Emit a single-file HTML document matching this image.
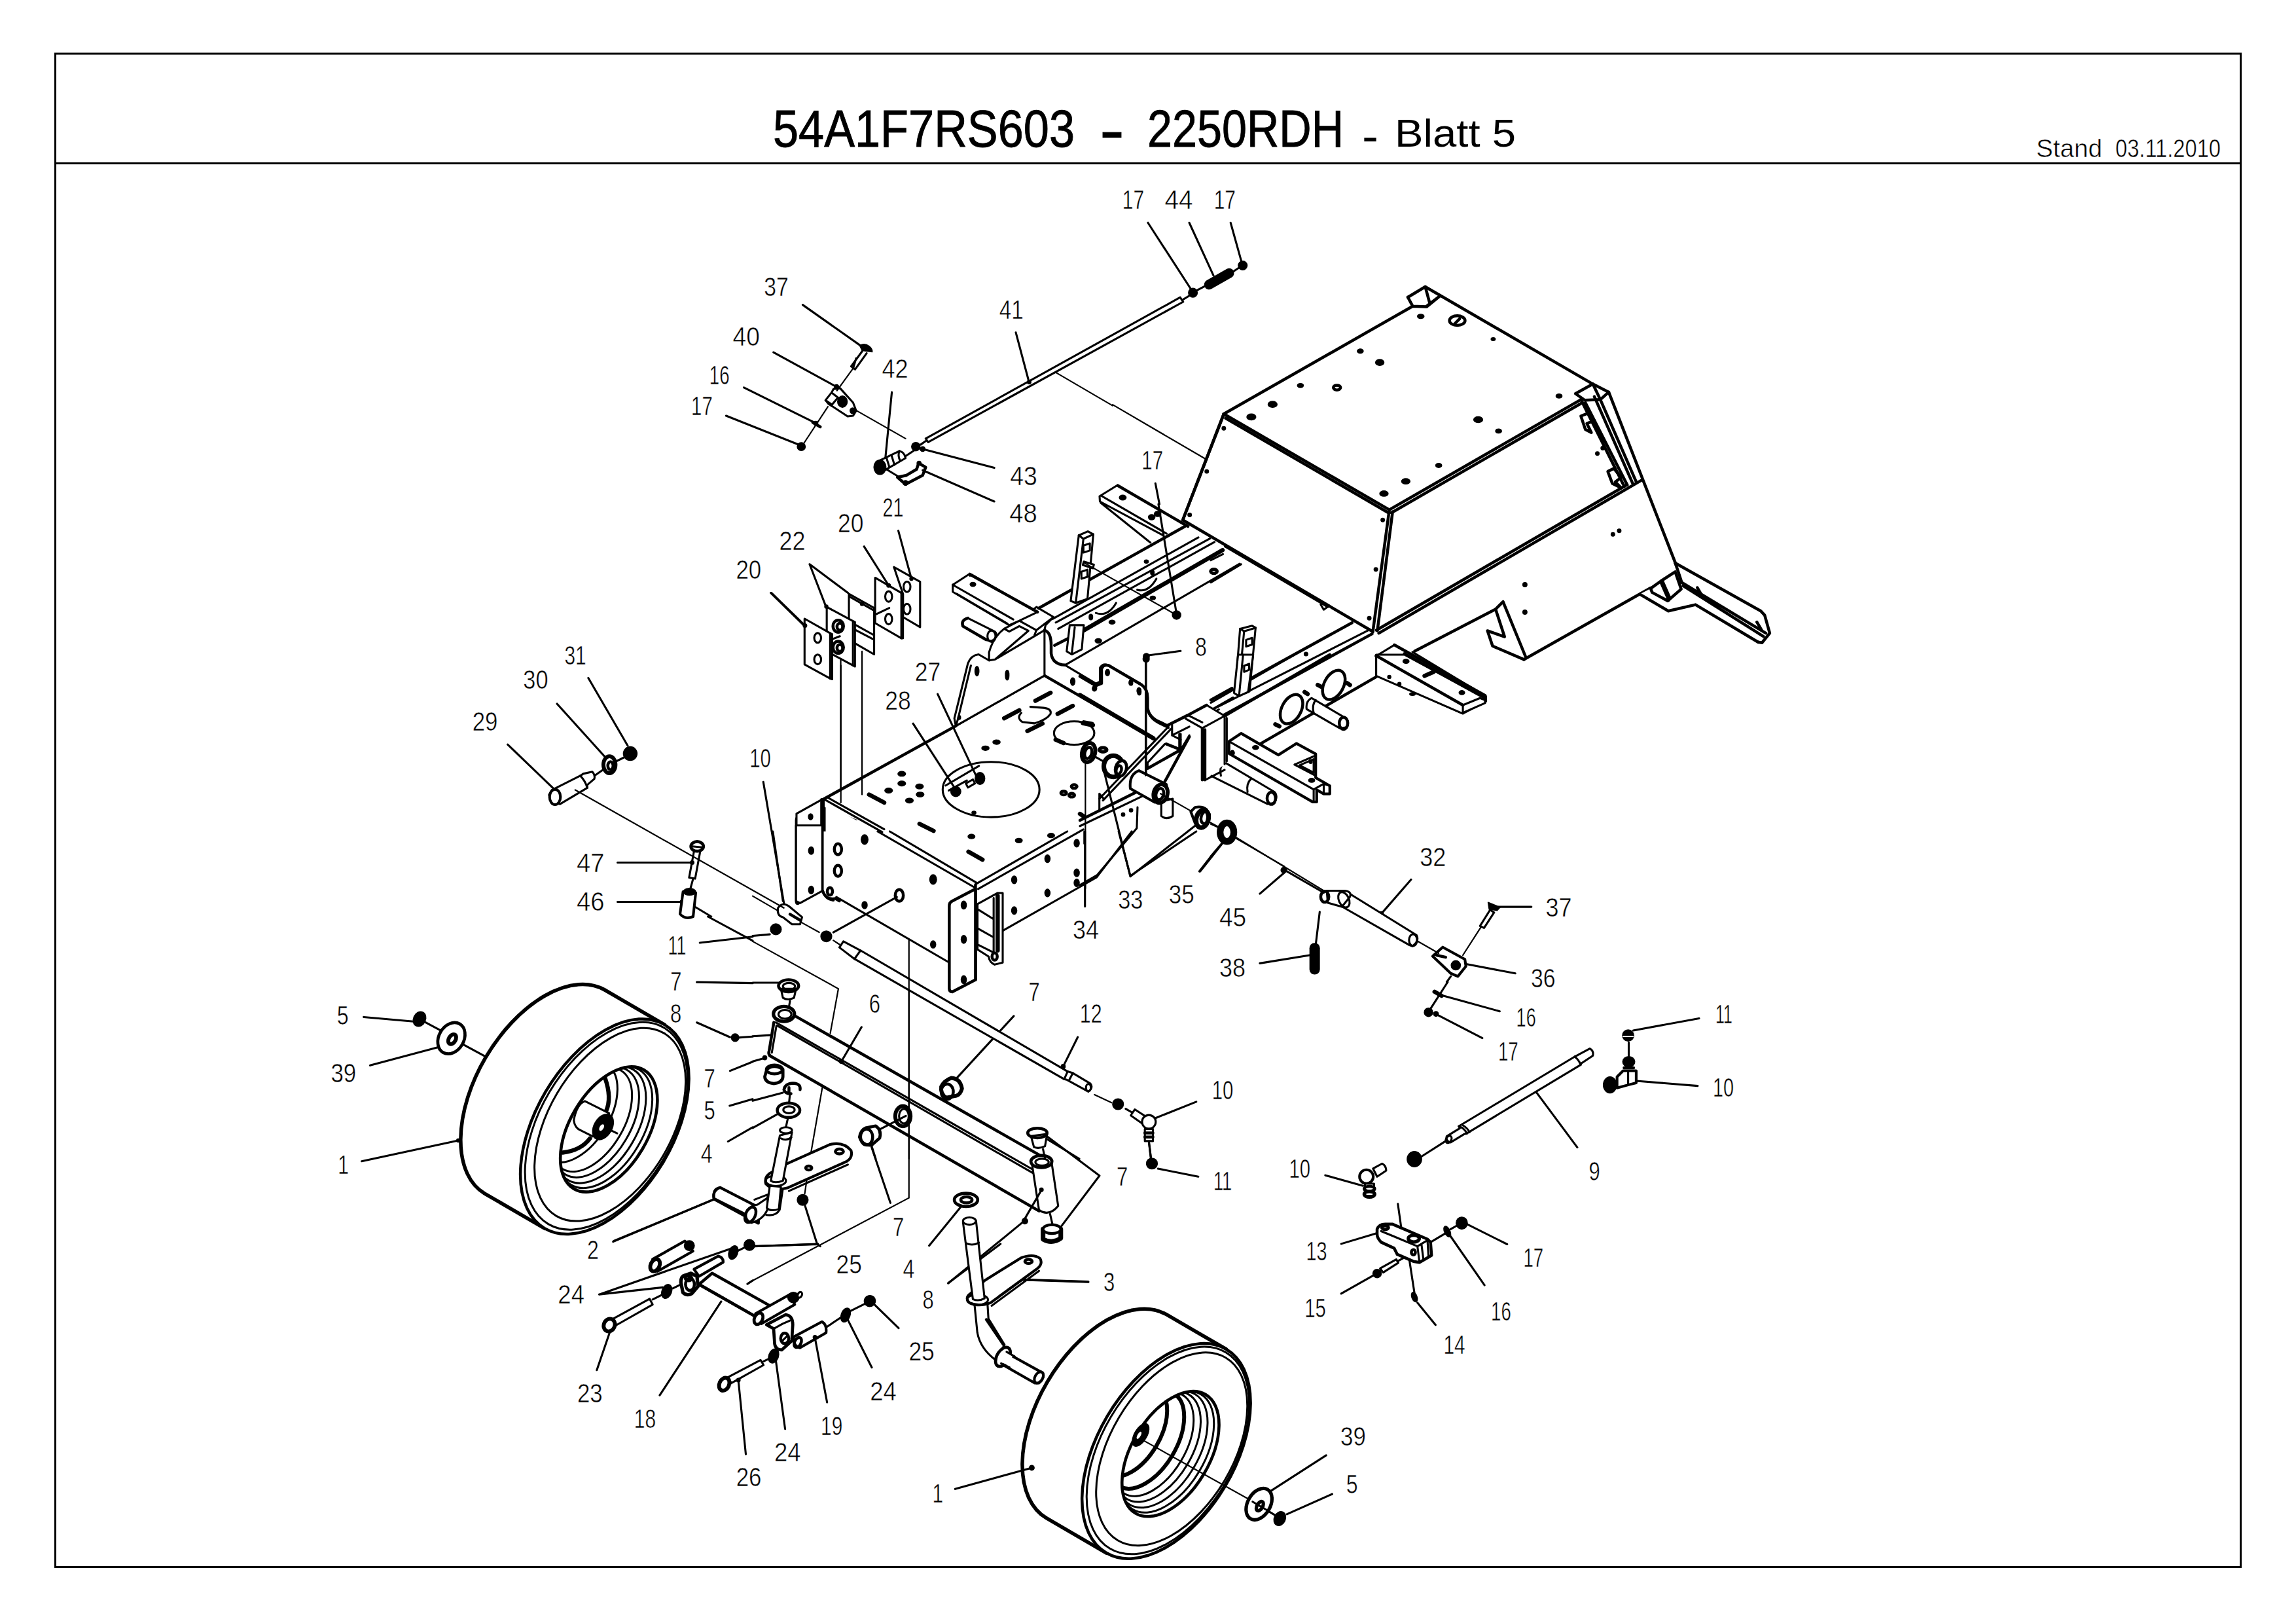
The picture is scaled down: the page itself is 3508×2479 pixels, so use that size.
<!DOCTYPE html>
<html lang="de">
<head>
<meta charset="utf-8">
<title>54A1F7RS603 - 2250RDH - Blatt 5</title>
<style>
html,body{margin:0;padding:0;background:#fff;}
body{width:3508px;height:2479px;overflow:hidden;}
svg{display:block;position:absolute;left:0;top:0;}
svg *{vector-effect:non-scaling-stroke;}
text{font-family:"Liberation Sans",sans-serif;fill:#000;stroke:#fff;stroke-width:0.55px;paint-order:fill stroke;}
text.T{stroke:#000;stroke-width:0.9px;}
.l{stroke:#000;stroke-width:3.1;fill:none;stroke-linecap:round;stroke-linejoin:round;vector-effect:non-scaling-stroke;}
.t{stroke:#000;stroke-width:2.2;fill:none;stroke-linecap:round;vector-effect:non-scaling-stroke;}
.k{stroke:#000;stroke-width:4.5;fill:none;stroke-linecap:round;stroke-linejoin:round;vector-effect:non-scaling-stroke;}
.h{stroke:#000;stroke-width:6.5;fill:none;stroke-linecap:round;}
.f{fill:#000;stroke:#000;stroke-width:1.5;stroke-linejoin:round;vector-effect:non-scaling-stroke;}
.w{fill:#fff;stroke:#000;stroke-width:3.1;stroke-linejoin:round;vector-effect:non-scaling-stroke;}
</style>
</head>
<body>
<svg width="3508" height="2479" viewBox="0 0 3508 2479">
<rect x="0" y="0" width="3508" height="2479" fill="#fff"/>
<rect x="84.5" y="82" width="3339" height="2311.5" fill="none" stroke="#000" stroke-width="3"/>
<line x1="84.5" y1="249.5" x2="3423.5" y2="249.5" stroke="#000" stroke-width="3"/>
<g font-size="80">
<text class="T" x="1181" y="224" textLength="461" lengthAdjust="spacingAndGlyphs">54A1F7RS603</text>
<text class="T" x="1680" y="233" font-size="100" textLength="38" lengthAdjust="spacingAndGlyphs">-</text>
<text class="T" x="1753" y="224" textLength="300" lengthAdjust="spacingAndGlyphs">2250RDH</text>
<text x="2081" y="232" font-size="70" style="stroke:none" textLength="25" lengthAdjust="spacingAndGlyphs">-</text>
<text x="2131" y="224" font-size="58.5" style="stroke:none" textLength="185" lengthAdjust="spacingAndGlyphs">Blatt 5</text>
</g>
<text y="240" font-size="38.5"><tspan x="3111" textLength="101" lengthAdjust="spacingAndGlyphs">Stand</tspan> <tspan x="3232" textLength="161" lengthAdjust="spacingAndGlyphs">03.11.2010</tspan></text>
<g transform="translate(0 0) scale(1.000000)" font-size="40.0"><!-- 08_misc.svg -->
<!-- upper-right cross beam -->
<path class="w" d="M1680 758L1707.5 741L1815 804L1790 818L1757.6 828.7L1681.8 768Z" style="stroke:none"/>
<path class="k" d="M1708 741.8L1815 804"/>
<path class="l" d="M1680 758L1707.5 741M1683 757.5L1782.4 815M1680 758L1680.5 766L1777 817.6M1681.8 768L1757.6 828.7"/>
<ellipse class="f" cx="1715.4" cy="760" rx="5.2" ry="3.7"/><ellipse class="f" cx="1759.6" cy="790" rx="5" ry="4"/><ellipse class="f" cx="1768.7" cy="785" rx="5" ry="4"/>
<circle class="f" cx="1843" cy="720" r="4"/><circle class="f" cx="1817" cy="786" r="4"/>
</g>
<g transform="translate(600 900) scale(0.308071)" font-size="129.8"><!-- 09_g1.svg -->
<path class="l" d=""/>
<path class="w" d="M2000 1145Q2000 1130 2015 1125L2130 1060L2140 1045L2300 950L2300 1700L2140 1700L2135 1490L2010 1560Q2000 1560 2000 1548Z" style="stroke:none"/>
<path class="l" d="M2000 1145Q2000 1130 2015 1125L2130 1060L2130 1492L2010 1560Q2000 1560 2000 1548Z"/>
<path class="k" d="M2140 1045L2140 1480Q2150 1530 2190 1530L2215 1545M2140 1045L2300 952"/>
<path class="l" d="M2150 1060L2300 1140"/>
<g class="f"><ellipse cx="2075" cy="1125" rx="12" ry="19"/><ellipse cx="2075" cy="1300" rx="12" ry="19"/><ellipse cx="2075" cy="1495" rx="12" ry="19"/></g>
<g class="k"><ellipse cx="2207" cy="1285" rx="17" ry="26"/><ellipse cx="2207" cy="1395" rx="17" ry="26"/><ellipse cx="2167" cy="1500" rx="13" ry="19"/></g>
<path class="t" d="M2222 350L2222 1070"/>
</g>
<g transform="translate(1200 770) scale(0.308071)" font-size="129.8"><!-- 10_c1.svg -->
<!-- main top plate -->
<path class="w" d="M190 1462L845 1100L1285 850L1830 1165L1900 1300L1900 1700L700 1700L190 1500Z" style="stroke:none"/>
<path class="k" d="M190 1462L845 1100M1285 850L1830 1165"/>
<path class="l" d="M845 1100L1285 850"/>
<path class="l" d="M190 1462L480 1626M205 1452L490 1612"/>
<!-- left flange -->
<path class="w" d="M55 1535L180 1465L190 1462L190 1700L55 1700Z"/>
<path class="k" d="M180 1465L180 1700"/>
<ellipse class="f" cx="125" cy="1550" rx="11" ry="15"/>
<!-- side panel left -->
<path class="w" d="M845 1100L838 1062L905 790Q920 750 958 745L1010 775L1010 735Q1030 660 1085 618L1160 578L1245 510L1330 560L1290 600L1285 625L1285 850Z"/>
<path class="l" d="M920 800L855 1068L845 1100M1010 775L1040 770L1285 625M1085 618L1110 632L1160 605L1205 628L1040 770M1160 578L1245 625L1330 560M1245 625L1235 650"/>
<ellipse class="f" cx="950" cy="828" rx="10" ry="24"/><ellipse class="f" cx="1100" cy="848" rx="9" ry="24"/><ellipse class="f" cx="862" cy="1058" rx="7" ry="10"/>
<!-- cross beam left -->
<path class="w" d="M830 400L915 345L1250 535L1160 578L1110 600L830 435Z"/>
<path class="l" d="M830 400L1130 572M850 445L1100 592M915 345L915 355"/>
<path class="k" d="M915 348L1250 535"/>
<ellipse class="f" cx="930" cy="398" rx="14" ry="10"/>
<!-- pin left -->
<path class="w" d="M905 565Q870 575 880 605L995 672Q1030 690 1045 655Q1050 635 1030 628Z"/>
<path class="k" d="M905 565Q870 575 880 605L995 672"/>
<ellipse class="l" cx="1022" cy="655" rx="20" ry="28"/>
<!-- rail lines -->
<path class="k" d="M1256 516L1980 111"/>
<path class="l" d="M1324 570L2048 165M1341 587L2105 171M1353 618L2128 188M1387 798L2253 296"/>
<path class="h" d="M1478 627L2168 228"/>
<path class="k" d="M1335 700L1478 627"/>
<!-- curved wall -->
<path class="k" d="M1285 625Q1318 635 1318 700L1318 740Q1325 795 1387 798"/>
<path class="l" d="M1387 798L1540 890L1560 880L1560 812Q1575 785 1605 800L1760 890Q1795 915 1795 960L1795 1010Q1800 1060 1850 1085L1900 1110"/>
<ellipse class="f" cx="1425" cy="880" rx="11" ry="19"/><ellipse class="f" cx="1598" cy="835" rx="9" ry="15"/><ellipse class="f" cx="1535" cy="912" rx="9" ry="13"/><ellipse class="f" cx="1712" cy="885" rx="8" ry="12"/><ellipse class="f" cx="1755" cy="930" rx="9" ry="17"/>
<!-- post -->
<path class="w" d="M1455 155L1500 135L1527 150L1498 470L1440 490L1415 480Z"/>
<path class="l" d="M1455 155L1478 172L1527 150M1478 172L1440 490M1478 205L1510 195L1510 230L1478 240ZM1468 335L1498 325L1498 360L1468 370Z"/>
<path class="w" d="M1410 600L1395 730L1420 745L1470 720L1480 600Z"/>
<path class="l" d="M1435 610L1420 745"/>
<path class="w" d="M1480 285L1530 300L1525 318L1475 302Z"/>
<!-- rail holes -->
<g class="f"><ellipse cx="1790" cy="285" rx="10" ry="8"/><ellipse cx="1820" cy="340" rx="9" ry="12"/><ellipse cx="1822" cy="465" rx="13" ry="9"/><ellipse cx="1620" cy="585" rx="15" ry="10"/><ellipse cx="1552" cy="678" rx="16" ry="11"/><ellipse cx="1515" cy="560" rx="9" ry="14"/></g>
<ellipse class="k" cx="2125" cy="333" rx="16" ry="10"/>
<path class="l" d="M1540 540Q1600 560 1640 490M1745 425Q1800 440 1840 370"/>
<!-- plate features -->
<path class="h" d="M1240 975L1315 935M1085 1062L1160 1022M1350 1040L1425 1000M1200 1125L1275 1088"/>
<path class="l" d="M1170 1035Q1145 1060 1175 1080L1235 1087Q1295 1070 1315 1040Q1322 1015 1280 1010L1215 1005"/>
<ellipse class="l" cx="1432" cy="1135" rx="100" ry="58"/>
<path class="h" d="M1480 1082L1520 1090M1340 1168L1380 1185"/>
<g class="f"><ellipse cx="992" cy="1210" rx="18" ry="11"/><ellipse cx="1047" cy="1180" rx="18" ry="11"/><ellipse cx="577" cy="1337" rx="19" ry="12"/><ellipse cx="577" cy="1385" rx="19" ry="12"/><ellipse cx="512" cy="1420" rx="19" ry="12"/><ellipse cx="665" cy="1400" rx="19" ry="12"/><ellipse cx="668" cy="1440" rx="19" ry="12"/><ellipse cx="615" cy="1470" rx="19" ry="12"/><ellipse cx="935" cy="1530" rx="10" ry="8"/></g>
<g class="k"><ellipse cx="1575" cy="1218" rx="16" ry="10"/><ellipse cx="1432" cy="1400" rx="14" ry="9"/><ellipse cx="1380" cy="1432" rx="14" ry="9"/><ellipse cx="1420" cy="1443" rx="14" ry="9"/></g>
<path class="h" d="M415 1440L490 1480M665 1585L735 1620"/>
<ellipse class="l" cx="1020" cy="1415" rx="240" ry="137"/>
<path class="l" d="M795 1395L960 1298M810 1420L900 1370"/>
<circle class="f" cx="845" cy="1425" r="25"/><ellipse class="f" cx="965" cy="1360" rx="24" ry="30"/>
<path class="w" d="M895 1385L930 1365L940 1385L905 1405Z"/>
</g>
<g transform="translate(1150 1270) scale(0.308071)" font-size="129.8"><!-- 12_e1.svg -->
<!-- front box faces -->
<path class="w" d="M345 0L345 290Q360 335 415 325L975 650L975 370L1105 285L1240 492L1705 228L1900 0L1560 0L1105 262L620 0Z" style="stroke:none"/>
<path class="k" d="M345 -20L345 290Q360 335 400 340M1105 265L1105 735"/>
<path class="l" d="M415 325L975 650M620 0L1105 280M680 0L1112 255M1105 262L1560 0M1118 285L1640 -10M1240 492L1705 228L1880 0M1645 0L1645 60"/>
<path class="w" d="M215 -30L215 345L235 355L345 295L345 -30Z"/>
<g class="f"><ellipse cx="290" cy="95" rx="13" ry="19"/><ellipse cx="290" cy="290" rx="13" ry="19"/><ellipse cx="555" cy="40" rx="17" ry="24"/><ellipse cx="895" cy="238" rx="17" ry="24"/><ellipse cx="555" cy="365" rx="13" ry="18"/><ellipse cx="895" cy="560" rx="13" ry="18"/>
<ellipse cx="1607" cy="58" rx="13" ry="19"/><ellipse cx="1462" cy="135" rx="13" ry="19"/><ellipse cx="1607" cy="205" rx="13" ry="19"/><ellipse cx="1607" cy="255" rx="13" ry="19"/><ellipse cx="1297" cy="240" rx="13" ry="19"/><ellipse cx="1462" cy="305" rx="13" ry="19"/><ellipse cx="1297" cy="392" rx="13" ry="19"/>
<ellipse cx="1085" cy="25" rx="17" ry="11"/><ellipse cx="1320" cy="45" rx="17" ry="11"/><ellipse cx="1480" cy="20" rx="17" ry="11"/></g>
<g class="k"><ellipse cx="423" cy="88" rx="18" ry="27"/><ellipse cx="423" cy="195" rx="18" ry="27"/><ellipse cx="383" cy="297" rx="13" ry="19"/><ellipse cx="727" cy="317" rx="20" ry="29"/></g>
<path class="h" d="M1070 100L1140 140"/>
<!-- hinge piece -->
<path class="w" d="M1115 360L1215 305L1240 305L1240 650L1200 660Q1175 650 1170 620L1115 585Z"/>
<path class="l" d="M1115 385L1195 435M1115 480L1195 525M1115 560L1195 600M1195 330L1195 600"/>
<path class="h" d="M1215 320L1215 590"/>
<ellipse class="k" cx="1200" cy="620" rx="13" ry="18"/>
<!-- front bracket plate -->
<path class="w" d="M975 370Q975 350 990 345L1105 285L1105 735L990 795Q975 795 975 780Z" style="stroke-width:4.5"/>
<g class="f"><ellipse cx="1047" cy="365" rx="13" ry="20"/><ellipse cx="1047" cy="535" rx="13" ry="20"/><ellipse cx="1047" cy="735" rx="13" ry="20"/></g>
</g>
<g transform="translate(450 1400) scale(0.308071)" font-size="129.8"><!-- 15_wheel1.svg -->
<path d="M943.1 1373.2A340.0 586.0 30.6 0 1 1536.9 362.8L1834.9 535.8L1241.1 1546.2Z" fill="#fff" stroke="#000" stroke-width="5.5" stroke-linejoin="round"/>
<ellipse cx="1538.0" cy="1041.0" rx="340.0" ry="586.0" transform="rotate(30.6 1538.0 1041.0)" fill="#fff" stroke="#000" stroke-width="4.5"/>
<ellipse cx="1546.0" cy="1038.0" rx="328.0" ry="565.0" transform="rotate(30.6 1546.0 1038.0)" fill="none" stroke="#000" stroke-width="3" />
<ellipse cx="1565.0" cy="1031.0" rx="305.0" ry="526.0" transform="rotate(30.6 1565.0 1031.0)" fill="none" stroke="#000" stroke-width="3" />
<clipPath id="rimA"><ellipse cx="1559" cy="1055" rx="193" ry="342" transform="rotate(30.6 1559 1055)"/></clipPath>
<g clip-path="url(#rimA)">
<ellipse cx="1541.0" cy="1045.0" rx="187.2" ry="331.7" transform="rotate(30.6 1541.0 1045.0)" fill="none" stroke="#000" stroke-width="3" />
<ellipse cx="1519.0" cy="1033.0" rx="179.5" ry="318.1" transform="rotate(30.6 1519.0 1033.0)" fill="none" stroke="#000" stroke-width="3" />
<ellipse cx="1497.0" cy="1020.0" rx="169.8" ry="301.0" transform="rotate(30.6 1497.0 1020.0)" fill="none" stroke="#000" stroke-width="3" />
<ellipse cx="1474.0" cy="1007.0" rx="160.2" ry="283.9" transform="rotate(30.6 1474.0 1007.0)" fill="none" stroke="#000" stroke-width="3" />
<ellipse cx="1409.0" cy="970.0" rx="154.4" ry="273.6" transform="rotate(30.6 1409.0 970.0)" fill="none" stroke="#000" stroke-width="3" />
<path class="h" transform="translate(0 0)" d="M1540 800Q1575 900 1545 965M1330 1170Q1420 1160 1465 1100"/>
</g>
<ellipse cx="1559.0" cy="1055.0" rx="193.0" ry="342.0" transform="rotate(30.6 1559.0 1055.0)" fill="none" stroke="#000" stroke-width="4.6" />
<g transform="translate(0 0)"><path class="w" d="M1440 915Q1400 930 1385 1010Q1390 1050 1420 1060L1480 1090L1560 975Z"/>
<path class="l" d="M1570 1060L1600 1075"/>
<ellipse cx="1530" cy="1043" rx="44" ry="68" transform="rotate(30 1530 1043)" fill="#000" stroke="#000" stroke-width="2"/>
<ellipse cx="1523" cy="1046" rx="10" ry="18" transform="rotate(30 1523 1046)" fill="#fff" stroke="none"/>
</g>
</g>
<g transform="translate(1350 1900) scale(0.308071)" font-size="129.8"><!-- 15_wheel2.svg -->
<path d="M807.1 1359.2A340.0 586.0 30.6 0 1 1400.9 348.8L1698.9 521.8L1105.1 1532.2Z" fill="#fff" stroke="#000" stroke-width="5.5" stroke-linejoin="round"/>
<ellipse cx="1402.0" cy="1027.0" rx="340.0" ry="586.0" transform="rotate(30.6 1402.0 1027.0)" fill="#fff" stroke="#000" stroke-width="4.5"/>
<ellipse cx="1410.0" cy="1024.0" rx="328.0" ry="565.0" transform="rotate(30.6 1410.0 1024.0)" fill="none" stroke="#000" stroke-width="3" />
<ellipse cx="1429.0" cy="1017.0" rx="305.0" ry="526.0" transform="rotate(30.6 1429.0 1017.0)" fill="none" stroke="#000" stroke-width="3" />
<clipPath id="rimB"><ellipse cx="1423" cy="1041" rx="193" ry="342" transform="rotate(30.6 1423 1041)"/></clipPath>
<g clip-path="url(#rimB)">
<ellipse cx="1405.0" cy="1031.0" rx="187.2" ry="331.7" transform="rotate(30.6 1405.0 1031.0)" fill="none" stroke="#000" stroke-width="3" />
<ellipse cx="1383.0" cy="1019.0" rx="179.5" ry="318.1" transform="rotate(30.6 1383.0 1019.0)" fill="none" stroke="#000" stroke-width="3" />
<ellipse cx="1361.0" cy="1006.0" rx="169.8" ry="301.0" transform="rotate(30.6 1361.0 1006.0)" fill="none" stroke="#000" stroke-width="3" />
<ellipse cx="1338.0" cy="993.0" rx="160.2" ry="283.9" transform="rotate(30.6 1338.0 993.0)" fill="none" stroke="#000" stroke-width="3" />
<ellipse cx="1303.0" cy="971.0" rx="150.5" ry="266.8" transform="rotate(30.6 1303.0 971.0)" fill="none" stroke="#000" stroke-width="6" />
<ellipse cx="1233.0" cy="931.0" rx="139.0" ry="246.2" transform="rotate(30.6 1233.0 931.0)" fill="none" stroke="#000" stroke-width="6" />
</g>
<ellipse cx="1423.0" cy="1041.0" rx="193.0" ry="342.0" transform="rotate(30.6 1423.0 1041.0)" fill="none" stroke="#000" stroke-width="4.6" />
<ellipse cx="1275" cy="947" rx="30" ry="62" transform="rotate(30 1275 947)" fill="#000" stroke="#000" stroke-width="2"/>
<ellipse cx="1267" cy="949" rx="8" ry="20" transform="rotate(30 1267 949)" fill="#fff" stroke="none"/>
</g>
<g transform="translate(1850 600) scale(0.308071)" font-size="129.8"><!-- 18_n1.svg -->
<path class="l" d="M70 762L580 1062M545 1050L560 1075L592 1052M0 830L60 800M0 940L150 850M590 1050L730 1140"/>
<ellipse class="k" cx="15" cy="885" rx="16" ry="10"/>
<path class="k" d="M0 1523L105 1465M200 1415L700 1140M60 1600L800 1195"/>
<path class="l" d="M0 1575L780 1178M0 1590L40 1570"/>
<circle class="f" cx="472" cy="1295" r="9"/>
<path class="w" d="M145 1170L205 1155L222 1165L192 1480L135 1500L120 1490Z"/>
<path class="l" d="M145 1170L165 1182L222 1165M165 1182L135 1500M175 1225L205 1215L205 1248L175 1258ZM165 1352L190 1344L190 1378L165 1386Z"/>
<path class="w" d="M820 1305L910 1250L1365 1505L1365 1530L1250 1590L820 1400Z"/>
<path class="k" d="M910 1250L1360 1500M820 1305L1250 1550"/>
<path class="l" d="M1000 1285L1340 1490M1250 1550L1250 1590M1250 1550L1335 1515L1365 1525"/>
</g>
<g transform="translate(1200 770) scale(0.308071)" font-size="129.8"><!-- 20_c1.svg -->
<!-- plates 20 21 22 -->
<path class="w" d="M538 312L668 385L668 610L583 560L583 445Z"/>
<path class="w" d="M445 365L575 440L583 445L583 665L575 665L445 590Z"/>
<path class="l" d="M575 440L575 665"/>
<path class="w" d="M315 445L440 515L440 745L345 690L315 670Z"/>
<path class="l" d="M350 600L440 650M350 625L440 672M320 460L440 528"/>
<path class="w" d="M205 510L335 580L345 585L345 805L335 800L205 730Z"/>
<path class="l" d="M335 580L335 800"/>
<path class="w" d="M95 568L222 640L232 645L232 868L222 865L95 795Z"/>
<path class="l" d="M222 640L222 865M232 670L270 655M452 545L515 515"/>
<g class="l"><ellipse cx="160" cy="663" rx="17" ry="24"/><ellipse cx="160" cy="770" rx="17" ry="24"/><ellipse cx="512" cy="458" rx="17" ry="26"/><ellipse cx="512" cy="570" rx="17" ry="26"/><ellipse cx="603" cy="410" rx="17" ry="26"/><ellipse cx="603" cy="520" rx="17" ry="26"/></g>
<g class="k"><ellipse cx="262" cy="605" rx="26" ry="30"/><ellipse cx="262" cy="710" rx="26" ry="30"/><ellipse cx="270" cy="608" rx="14" ry="17"/><ellipse cx="270" cy="713" rx="14" ry="17"/></g>
<circle class="f" cx="97" cy="602" r="9"/><circle class="f" cx="203" cy="508" r="8"/><circle class="f" cx="512" cy="403" r="9"/><circle class="f" cx="625" cy="370" r="8"/><circle class="f" cx="380" cy="495" r="8"/>
<path class="l" d="M120 298L200 505M120 298L310 440M390 210L510 400M560 132L625 370M755 942L945 1345M633 1088L835 1400M1960 728L1800 750M1850 0L1940 545"/>
<text x="260" y="140" textLength="128" lengthAdjust="spacingAndGlyphs">20</text>
<text x="482" y="62" textLength="104" lengthAdjust="spacingAndGlyphs">21</text>
<text x="642" y="875" textLength="128" lengthAdjust="spacingAndGlyphs">27</text>
<text x="494" y="1020" textLength="128" lengthAdjust="spacingAndGlyphs">28</text>
<text x="2032" y="752" textLength="58" lengthAdjust="spacingAndGlyphs">8</text>
<circle class="f" cx="1790" cy="755" r="15"/><circle class="f" cx="1940" cy="550" r="21"/>
<path class="t" d="M275 800L275 1480M380 730L380 1440M1790 770L1790 1350M1480 290L1940 550"/>
</g>
<g transform="translate(1850 1000) scale(0.308071)" font-size="129.8"><!-- 20_d1.svg -->
<text x="1036" y="1048" textLength="130" lengthAdjust="spacingAndGlyphs">32</text>
<text x="1660" y="1297" textLength="130" lengthAdjust="spacingAndGlyphs">37</text>
<text x="42" y="1348" textLength="134" lengthAdjust="spacingAndGlyphs">45</text>
<text x="42" y="1597" textLength="130" lengthAdjust="spacingAndGlyphs">38</text>
<text x="1587" y="1650" textLength="122" lengthAdjust="spacingAndGlyphs">36</text>
<path class="l" d="M993 1115L845 1285M1590 1250L1425 1250M243 1185L365 1080M243 1530L490 1490M1510 1580L1245 1530M55 935L0 1000M370 1070L560 1180M1190 1595L1170 1623M540 1275L520 1440"/>
<ellipse cx="80" cy="880" rx="34" ry="46" fill="none" stroke="#000" stroke-width="10.3"/>
<circle class="f" cx="362" cy="1068" r="14"/><circle class="f" cx="845" cy="1285" r="11"/>
<!-- 32 tube -->
<path class="w" d="M680 1180L1020 1390Q1035 1420 1000 1445L985 1440L635 1240Q640 1195 680 1180Z"/>
<ellipse class="l" cx="1003" cy="1415" rx="20" ry="29"/>
<path class="w" d="M575 1170L665 1170Q700 1175 690 1200L650 1250L580 1230Z"/>
<ellipse class="k" cx="565" cy="1200" rx="20" ry="27"/>
<ellipse class="l" cx="660" cy="1215" rx="25" ry="40" transform="rotate(-25 660 1215)"/>
<!-- 36 -->
<path class="w" d="M1100 1495L1150 1450L1260 1510L1265 1545L1225 1595L1190 1580Z" style="stroke-width:4.1"/>
<circle class="f" cx="1215" cy="1540" r="23"/><path class="k" d="M1120 1490L1165 1500"/>
<!-- 37 -->
<path class="f" d="M1375 1228L1435 1252L1420 1268L1380 1262Z"/>
<path class="w" d="M1385 1265L1335 1345L1355 1355L1405 1278Z"/>
<!-- spring 38 -->
<path d="M515 1455L515 1560" stroke="#000" stroke-width="16" stroke-linecap="round" fill="none"/>
<!-- chassis bits -->
<path class="l" d="M0 238L415 0M0 275L110 212M0 330L75 300"/>
<path class="k" d="M75 300L590 0M240 445L820 110"/>
<path class="l" d="M75 300L75 530"/>
<path class="w" d="M135 0L115 190L140 205L185 185L210 0Z"/>
<path class="l" d="M160 0L140 205M165 55L190 45L190 75L165 85Z"/>
<ellipse class="k" cx="400" cy="270" rx="48" ry="78" transform="rotate(28 400 270)"/>
<ellipse class="k" cx="610" cy="150" rx="48" ry="78" transform="rotate(28 610 150)"/>
<path class="h" d="M320 345L340 355M465 185L480 195M530 150L550 160M675 140L690 150"/>
<!-- pin right -->
<path class="w" d="M500 215L670 315Q690 335 670 360L640 365L475 270Q470 230 500 215Z"/>
<ellipse class="k" cx="658" cy="340" rx="21" ry="30"/>
<path class="l" d="M520 225Q500 250 510 290"/>
<!-- bracket lower-left -->
<path class="w" d="M90 430L150 390L335 497L425 440L520 492L520 610L590 650L590 690L560 690L525 670L525 730L505 730L90 490Z" style="stroke-width:4.2"/>
<path class="l" d="M90 430L510 668L510 730M510 668L560 640L590 650M560 640L560 690M415 545L520 500M415 545L520 600M440 548L510 518L510 585Z"/>
<g class="f"><ellipse cx="222" cy="460" rx="15" ry="10"/><ellipse cx="107" cy="487" rx="10" ry="12"/><ellipse cx="500" cy="623" rx="15" ry="10"/><ellipse cx="495" cy="530" rx="8" ry="10"/></g>
<!-- pin lower-left -->
<path class="w" d="M45 520L315 680Q335 700 315 735L280 740L0 600L0 545Q20 515 45 520Z"/>
<ellipse class="k" cx="300" cy="712" rx="21" ry="30"/>
<path class="l" d="M200 615Q175 640 182 680M65 530Q40 560 50 600"/>
<!-- right bracket -->
<path class="w" d="M820 0L820 105L1245 290L1360 240L1360 215L960 0Z"/>
<path class="k" d="M1360 215L960 -5M820 5L1250 250"/>
<path class="l" d="M1250 250L1250 290M1250 250L1335 215L1360 225M1000 0L1340 195"/>
<g class="f"><ellipse cx="968" cy="33" rx="15" ry="10"/><circle cx="885" cy="110" r="8"/><circle cx="935" cy="145" r="8"/><ellipse cx="1245" cy="188" rx="14" ry="10"/><ellipse cx="1000" cy="195" rx="14" ry="7"/></g>
<path class="h" d="M1060 105L1105 85"/>
<path class="t" d="M115 900L560 1170M1025 1420L1130 1480M1340 1350L1250 1490M0 840L45 860"/>
</g>
<g transform="translate(1650 1000) scale(0.219963)" font-size="181.8"><!-- 25_m1.svg -->
<!-- skirt / lower rails -->
<path class="k" d="M0 1150L420 940"/>
<path class="l" d="M0 1190L450 975M400 1060L395 1205L120 1530L0 1600M135 1085L135 965L165 1000"/>
<circle class="f" cx="300" cy="1110" r="12"/><circle class="f" cx="355" cy="1080" r="12"/>
<!-- long diagonal -->
<path class="l" d="M135 1000L615 500M160 1012L640 508"/>
<!-- junction block -->
<path class="w" d="M610 490L880 350L1005 425L1020 440L1020 740L1005 760L870 870L850 870L850 510L760 560L640 510Z" style="stroke:none"/>
<path class="k" d="M610 490L750 420L880 350M850 510L850 870M868 520L868 870"/>
<path class="l" d="M880 350L1005 425L850 510L735 445M1005 425L1005 760M1020 440L1020 740M870 870L1005 800M750 420L850 470M640 480L640 560L760 500M640 560L700 590"/>
<!-- gusset -->
<path class="k" d="M470 790L700 660M590 880L760 570M600 620L700 660"/>
<path class="l" d="M470 790L470 750L590 620M700 660L760 560M700 550L700 650M690 550L690 650"/>
<!-- pivot tube -->
<path class="w" d="M410 805L600 900L610 960L520 1025L350 930Q340 830 410 805Z" style="stroke-width:4.1"/>
<path class="w" d="M565 1020L565 1120Q600 1150 645 1120L645 1000Z"/>
<ellipse class="w" cx="560" cy="965" rx="48" ry="65" transform="rotate(15 560 965)" style="stroke-width:5.9"/>
<ellipse class="k" cx="555" cy="968" rx="26" ry="40" transform="rotate(15 555 968)"/>
<path class="l" d="M100 705L170 745M170 820L350 1540L810 1180M990 1310L835 1505"/>
<!-- bushing 33 R -->
<path class="w" d="M770 1090L800 1060Q850 1050 880 1075L900 1110L860 1200L800 1170Z" style="stroke-width:4.1"/>
<ellipse class="w" cx="850" cy="1140" rx="42" ry="62" transform="rotate(15 850 1140)" style="stroke-width:7.1"/>
<ellipse class="k" cx="870" cy="1130" rx="28" ry="44" transform="rotate(15 870 1130)"/>
<!-- bushing 33 L -->
<ellipse class="w" cx="232" cy="775" rx="66" ry="74" style="stroke-width:7.1"/>
<ellipse class="w" cx="285" cy="790" rx="38" ry="55" transform="rotate(15 285 790)" style="stroke-width:4.7"/>
<ellipse class="k" cx="270" cy="800" rx="18" ry="30" transform="rotate(15 270 800)"/>
<!-- washer 34 -->
<ellipse class="w" cx="60" cy="680" rx="45" ry="68" transform="rotate(15 60 680)" style="stroke-width:5.9"/>
<ellipse class="k" cx="58" cy="682" rx="24" ry="40" transform="rotate(15 58 682)"/>
<ellipse class="k" cx="160" cy="660" rx="28" ry="16"/>
<!-- curvy plate -->
<path class="k" d="M0 150L110 215L150 200L150 100Q160 65 200 75L430 210Q470 240 470 300L470 370Q480 440 560 470L610 495"/>
<path class="h" d="M0 280L510 580"/>
<g class="f"><ellipse cx="190" cy="125" rx="14" ry="20"/><ellipse cx="100" cy="235" rx="14" ry="18"/><ellipse cx="355" cy="195" rx="12" ry="18"/><ellipse cx="410" cy="250" rx="14" ry="22"/><ellipse cx="460" cy="30" rx="22" ry="22"/></g>
<path class="h" d="M20 475L90 490M0 1105L30 1125"/>

<path class="t" d="M560 965L770 1085M905 1165L970 1200M1075 1270L1420 1470M38 740L38 1623M455 30L455 840"/>
</g>
<g transform="translate(1750 400) scale(0.457317)" font-size="87.5"><!-- 30_b1.svg -->
<!-- box top -->
<path class="w" d="M262 508L893 148L877 118L935 83L1495 408L1548 435L1770 1004L1792 1071L1688 1089L1265 1328L1160 1283L1143 1232L1200 1252L1170 1160L1195 1135L900 1300L760 1235L125 862Z" style="stroke:none"/>
<path class="k" d="M125 862L262 508M877 118L935 83L1495 408L1548 435L1770 1004L1792 1071M1265 1328L1160 1283L1143 1232L1200 1252L1170 1160"/>
<path class="k" d="M262 508L893 148L937 150L985 113M877 118L893 148M935 83L950 138M893 148L940 150L985 113"/>
<path class="k" d="M262 508L815 828M815 828L1455 460"/>
<path class="k" d="M268 522L812 838M822 838L1460 470M815 828L760 1235M826 834L775 1232M1437 440L1495 408M1437 440L1468 462L1520 460L1548 435M1495 408L1520 460"/>
<path class="k" d="M262 508L125 862L760 1235"/>
<path class="k" d="M772 1230L1608 745"/>
<path class="k" d="M780 1240L1660 728M1455 460L1600 750M1470 470L1610 745M1500 450L1628 740M1520 460L1640 735"/>
<path class="k" d="M1455 515L1480 505L1500 530L1475 540L1490 570L1470 560ZM1545 700L1565 690L1590 720L1570 735L1590 755L1560 740Z"/>
<path class="k" d="M1265 1328L1688 1089M1195 1135L1270 1318M1170 1160L1195 1135M1170 1160L900 1300"/>
<!-- foot -->
<path class="w" d="M1770 1006L2056 1166L2069 1180L2086 1240L2060 1272L2047 1270L1838 1145L1747 1166L1652 1110L1688 1091L1770 1035Z" style="stroke:none"/>
<path class="k" d="M1770 1006L2056 1166L2069 1180L2086 1240L2060 1272L2047 1270"/>
<path class="k" d="M1652 1110L1747 1166L1838 1145L2047 1270M1792 1071L2073 1240M1797 1082L2065 1251M1688 1091L1721 1067L1770 1035M1688 1091L1693 1104L1745 1132L1790 1093L1770 1035M1721 1067L1749 1130M1727 1065L1753 1125M1844 1088L1859 1114M2043 1203L2060 1232"/>
<path class="k" d="M1770 1004L1792 1071"/>
<!-- holes -->
<g class="f">
<ellipse cx="920" cy="182" rx="11" ry="7"/><ellipse cx="1162" cy="258" rx="7" ry="5"/><ellipse cx="718" cy="298" rx="10" ry="7"/><ellipse cx="783" cy="336" rx="14" ry="10"/><ellipse cx="518" cy="413" rx="10" ry="7"/><ellipse cx="425" cy="476" rx="15" ry="10"/><ellipse cx="354" cy="518" rx="15" ry="10"/><ellipse cx="1382" cy="448" rx="10" ry="7"/><ellipse cx="1112" cy="527" rx="15" ry="10"/><ellipse cx="1180" cy="565" rx="10" ry="7"/><ellipse cx="980" cy="680" rx="10" ry="7"/><ellipse cx="870" cy="733" rx="14" ry="9"/><ellipse cx="797" cy="774" rx="14" ry="9"/>
<circle cx="262" cy="556" r="6"/><circle cx="205" cy="700" r="6"/><circle cx="148" cy="845" r="6"/><circle cx="793" cy="862" r="6"/><circle cx="770" cy="1027" r="6"/><circle cx="748" cy="1190" r="6"/><circle cx="1562" cy="910" r="6"/><circle cx="1583" cy="898" r="6"/><circle cx="1268" cy="1078" r="7"/><circle cx="1268" cy="1170" r="7"/><circle cx="1510" cy="640" r="6"/><circle cx="1528" cy="622" r="6"/>
</g>
<ellipse class="k" cx="1042" cy="196" rx="26" ry="16"/><path class="k" d="M1035 205L1050 190"/>
<ellipse class="k" cx="640" cy="420" rx="12" ry="8"/>
</g>
<g transform="translate(1150 1500) scale(0.308071)" font-size="129.8"><!-- 35_f1.svg -->
<!-- axle 6 -->
<path class="l" d=""/>
<path class="w" d="M205 165L1440 868L1395 930L1420 1135L85 365Q75 355 82 340L105 200Q110 180 150 190Z" style="stroke:none"/>
<path class="k" d="M205 165L1440 868M85 365L1420 1135M105 200L82 340Q75 358 90 368"/>
<path class="l" d="M115 200L1390 930M122 216L1388 946M118 215L95 350"/>
<ellipse class="w" cx="155" cy="158" rx="52" ry="37" style="stroke-width:5.3"/><ellipse class="l" cx="160" cy="160" rx="32" ry="22"/>
<ellipse class="w" cx="745" cy="665" rx="38" ry="50" style="stroke-width:5.9"/><ellipse class="l" cx="750" cy="665" rx="24" ry="36"/>
<path class="w" d="M1385 900L1420 1130Q1470 1165 1515 1110L1482 890Z"/>
<ellipse class="w" cx="1432" cy="890" rx="52" ry="30" style="stroke-width:4.7"/><ellipse class="l" cx="1435" cy="893" rx="33" ry="17"/>
<circle class="f" cx="1432" cy="1030" r="9"/>
<path class="t" d="M775 0L775 1070L0 1480M345 525L285 870L258 1050"/>
</g>
<g transform="translate(1150 1270) scale(0.308071)" font-size="129.8"><!-- 40_e1.svg -->
<text x="1812" y="383" textLength="124" lengthAdjust="spacingAndGlyphs">33</text>
<text x="2064" y="358" textLength="126" lengthAdjust="spacingAndGlyphs">35</text>
<text x="1587" y="533" textLength="130" lengthAdjust="spacingAndGlyphs">34</text>
<text x="1368" y="840" textLength="56" lengthAdjust="spacingAndGlyphs">7</text>
<text x="1622" y="948" textLength="110" lengthAdjust="spacingAndGlyphs">12</text>
<text x="577" y="898" textLength="56" lengthAdjust="spacingAndGlyphs">6</text>
<path class="l" d="M1295 915L1010 1225M1612 1020L1540 1165M540 970L440 1140M1815 0L1873 220L2200 0M2272 125L2215 198M1648 0L1648 372M400 500L715 325M100 0L150 345M0 518L85 510M2200 1340L2000 1420M1460 1525L1620 1623M1850 1375L1885 1395"/>
<!-- rod 12 -->
<path class="w" d="M450 545L535 590L1562 1190L1588 1198L1675 1250Q1690 1270 1665 1290L1560 1232L1545 1228L505 632L430 575Z"/>
<path class="l" d="M535 590L505 632M1562 1190L1545 1228M1588 1198L1570 1232"/>
<ellipse class="l" cx="1665" cy="1270" rx="12" ry="18"/>
<circle class="f" cx="365" cy="520" r="27"/><circle class="f" cx="115" cy="485" r="27"/><circle class="f" cx="1540" cy="1165" r="10"/><circle class="f" cx="440" cy="1140" r="10"/><circle class="f" cx="1812" cy="1352" r="27"/>
<!-- ball joint 10 left -->
<path class="w" d="M125 380Q150 345 185 375L245 425L235 460L195 460L150 425Q120 420 125 380Z"/>
<path class="k" d="M185 410L235 440"/>
<!-- ball joint 10 right -->
<path class="w" d="M1895 1378L1875 1408L1935 1450L1960 1420Z"/>
<circle class="w" cx="1965" cy="1440" r="34"/>
<path class="w" d="M1945 1475L1945 1535L1985 1535L1985 1475Z"/>
<path class="k" d="M1945 1495L1985 1495M1945 1515L1985 1515"/>
<path class="l" d="M1965 1540L1975 1623"/>
<!-- bushing 7 top-left -->
<path class="w" d="M140 780L150 825Q175 840 205 825L215 780Z"/>
<ellipse class="k" cx="178" cy="765" rx="50" ry="30"/><ellipse class="l" cx="180" cy="768" rx="30" ry="17"/>
<path class="l" d="M0 750L128 750M185 840L180 870"/>
<!-- bushing lower-left -->
<path class="w" d="M60 1215Q60 1245 105 1250Q150 1245 150 1215L150 1180Q105 1150 70 1180Z" style="stroke-width:4.7"/>
<ellipse class="k" cx="108" cy="1180" rx="40" ry="22"/>
<circle class="f" cx="60" cy="1122" r="10"/><path class="l" d="M0 1140L55 1125M0 1015L85 1010"/>
<!-- clip 5 -->
<path class="k" d="M235 1280Q240 1250 200 1248Q160 1250 155 1280Q160 1300 190 1300M180 1270L180 1300"/>
<path class="l" d="M0 1335L150 1295M185 1300L180 1350"/>
<!-- washer 4 -->
<ellipse class="k" cx="178" cy="1382" rx="56" ry="36"/><ellipse class="l" cx="180" cy="1380" rx="28" ry="17"/>
<path class="l" d="M0 1470L125 1400M175 1420L165 1465"/>
<!-- mid bushing 7 -->
<path class="w" d="M985 1222Q1030 1225 1038 1275Q1030 1305 1010 1310L960 1320Q930 1300 935 1265Q950 1235 985 1222Z" style="stroke-width:5.9"/>
<ellipse class="k" cx="965" cy="1290" rx="30" ry="38"/>
<!-- lower bushing 7 -->
<path class="w" d="M560 1470L610 1460Q640 1480 630 1520L590 1555Q545 1560 530 1515Q535 1480 560 1470Z" style="stroke-width:4.7"/>
<ellipse class="k" cx="565" cy="1515" rx="30" ry="40"/>
<path class="l" d="M625 1480L760 1410M590 1560L610 1623"/>
<!-- right bushing 7 -->
<path class="w" d="M1380 1510L1395 1565Q1420 1575 1450 1560L1460 1500Z"/>
<ellipse class="k" cx="1412" cy="1495" rx="48" ry="24"/>
<path class="l" d="M1440 1575L1450 1623"/>
<path class="t" d="M775 535L775 1623M0 545L425 780L385 1000M0 320L120 390M240 450L330 500M400 540L430 560M1695 1305L1780 1345"/>
</g>
<g transform="translate(600 900) scale(0.308071)" font-size="129.8"><!-- 40_g1.svg -->
<text x="852" y="372" textLength="108" lengthAdjust="spacingAndGlyphs">31</text>
<text x="647" y="495" textLength="124" lengthAdjust="spacingAndGlyphs">30</text>
<text x="395" y="700" textLength="126" lengthAdjust="spacingAndGlyphs">29</text>
<text x="1770" y="883" textLength="106" lengthAdjust="spacingAndGlyphs">10</text>
<text x="912" y="1403" textLength="138" lengthAdjust="spacingAndGlyphs">47</text>
<text x="912" y="1595" textLength="138" lengthAdjust="spacingAndGlyphs">46</text>
<path class="l" d="M970 440L1165 775M815 568L1065 845M570 770L810 1000M1838 955L1940 1555M1115 1355L1480 1355M1115 1550L1430 1550M1875 18L2040 180M1000 925L1050 890M1105 855L1145 835M1490 1435L1475 1490M1500 1575L1580 1623"/>
<circle class="f" cx="1178" cy="815" r="34"/>
<ellipse class="w" cx="1075" cy="870" rx="30" ry="42" style="stroke-width:5.9"/><ellipse class="k" cx="1080" cy="875" rx="13" ry="20"/>
<path class="w" d="M790 995L930 925L945 915L990 905Q1005 920 1000 940L965 970L965 985L830 1065Q790 1060 775 1020Z"/>
<ellipse class="w" cx="805" cy="1030" rx="27" ry="38" style="stroke-width:4.1"/>
<path class="l" d="M930 925Q955 950 965 985"/>
<!-- bolt 47 -->
<path class="w" d="M1495 1295L1470 1430L1500 1435L1525 1300Z"/>
<ellipse class="w" cx="1510" cy="1275" rx="31" ry="24" style="stroke-width:4.7"/><path class="l" d="M1485 1275L1535 1280"/>
<circle class="f" cx="1485" cy="1355" r="9"/><circle class="f" cx="1435" cy="1550" r="9"/>
<!-- spacer 46 -->
<path class="w" d="M1440 1500L1425 1610Q1450 1640 1490 1623L1503 1505Z" style="stroke-width:4.1"/>
<ellipse class="f" cx="1472" cy="1500" rx="31" ry="17"/>
<path class="t" d="M905 995L1940 1580"/>
</g>
<g transform="translate(450 1400) scale(0.308071)" font-size="129.8"><!-- 41_h1.svg -->
<text x="210" y="537" textLength="58" lengthAdjust="spacingAndGlyphs">5</text>
<text x="180" y="822" textLength="126" lengthAdjust="spacingAndGlyphs">39</text>
<text x="215" y="1277" textLength="54" lengthAdjust="spacingAndGlyphs">1</text>
<text x="1852" y="188" textLength="90" lengthAdjust="spacingAndGlyphs">11</text>
<text x="1864" y="368" textLength="56" lengthAdjust="spacingAndGlyphs">7</text>
<text x="1863" y="525" textLength="56" lengthAdjust="spacingAndGlyphs">8</text>
<text x="2030" y="848" textLength="56" lengthAdjust="spacingAndGlyphs">7</text>
<text x="2030" y="1005" textLength="56" lengthAdjust="spacingAndGlyphs">5</text>
<text x="2015" y="1222" textLength="58" lengthAdjust="spacingAndGlyphs">4</text>
<path class="l" d="M343 498L590 520M375 738L710 648M333 1213L812 1110M2010 130L2272 100M1995 325L2272 330M1995 525L2160 598M2200 600L2272 595M2160 765L2272 720M2158 938L2272 905M2150 1115L2272 1045M2050 0L2272 120M1580 1612L2085 1400M650 525L735 570M820 625L940 690"/>
<circle class="f" cx="2185" cy="600" r="19"/><circle class="f" cx="812" cy="1110" r="8"/>
<ellipse class="f" cx="620" cy="508" rx="30" ry="38" transform="rotate(25 620 508)"/>
<ellipse class="w" cx="778" cy="603" rx="62" ry="82" transform="rotate(30 778 603)" style="stroke-width:4.7"/>
<ellipse class="w" cx="782" cy="608" rx="17" ry="26" transform="rotate(30 782 608)" style="stroke-width:5.9"/>
<path class="w" d="M2110 1345L2300 1445L2300 1520L2080 1400Q2075 1350 2110 1345Z" style="stroke-width:4.7"/>
</g>
<g transform="translate(1350 1900) scale(0.308071)" font-size="129.8"><!-- 42_i1.svg -->
<text x="242" y="1283" textLength="54" lengthAdjust="spacingAndGlyphs">1</text>
<text x="2095" y="80" textLength="104" lengthAdjust="spacingAndGlyphs">13</text>
<text x="2088" y="362" textLength="106" lengthAdjust="spacingAndGlyphs">15</text>
<path class="l" d="M355 1215L735 1110M2195 1048L1920 1225M2225 1240L2000 1340M1900 1320L1950 1350M1015 187L640 175M320 195L580 0"/>
<circle class="f" cx="735" cy="1110" r="12"/><circle class="f" cx="640" cy="175" r="10"/>
<ellipse class="w" cx="1862" cy="1290" rx="56" ry="84" transform="rotate(30 1862 1290)" style="stroke-width:5.3"/>
<ellipse class="w" cx="1866" cy="1300" rx="14" ry="25" transform="rotate(30 1866 1300)" style="stroke-width:5.3"/>
<path class="l" d="M1830 1278L1905 1322"/>
<ellipse class="f" cx="1965" cy="1362" rx="28" ry="36" transform="rotate(25 1965 1362)"/>
<!-- spindle 3 lower -->
<path class="w" d="M450 290L465 440Q480 520 555 575L600 500L520 370L515 290Z"/>
<path class="k" d="M510 375L595 500"/>
<path class="w" d="M600 535L790 640Q800 665 770 690L750 690L575 590Z" style="stroke-width:4.1"/>
<ellipse class="w" cx="770" cy="662" rx="19" ry="30" transform="rotate(30 770 662)" style="stroke-width:4.1"/>
<ellipse class="w" cx="592" cy="560" rx="30" ry="52" transform="rotate(30 592 560)" style="stroke-width:4.7"/>
<path class="w" d="M597 530L640 555L615 600L578 585Z" style="stroke:none"/><path class="l" d="M610 535L650 558M583 592L625 612"/>
<path class="t" d="M1290 975L1810 1265"/>
</g>
<g transform="translate(800 1780) scale(0.308071)" font-size="129.8"><!-- 43_j1.svg -->
<text x="315" y="465" textLength="58" lengthAdjust="spacingAndGlyphs">2</text>
<text x="170" y="685" textLength="132" lengthAdjust="spacingAndGlyphs">24</text>
<text x="266" y="1175" textLength="126" lengthAdjust="spacingAndGlyphs">23</text>
<text x="548" y="1303" textLength="108" lengthAdjust="spacingAndGlyphs">18</text>
<text x="1054" y="1592" textLength="126" lengthAdjust="spacingAndGlyphs">26</text>
<text x="1243" y="1468" textLength="132" lengthAdjust="spacingAndGlyphs">24</text>
<text x="1474" y="1337" textLength="108" lengthAdjust="spacingAndGlyphs">19</text>
<text x="1718" y="1165" textLength="132" lengthAdjust="spacingAndGlyphs">24</text>
<text x="1910" y="968" textLength="128" lengthAdjust="spacingAndGlyphs">25</text>
<path class="l" d="M447 375L945 168M375 640L1030 412M375 640L690 605M363 1015L430 820M675 1140L980 675M1102 1432L1065 1065M1297 1307L1250 960M1505 1175L1445 855M1727 1002L1605 760M1860 807L1735 685M1120 402L1460 390M640 665L690 640M740 610L780 590M1190 972L1225 955M1505 800L1580 750M1615 725L1695 685M1136 571L1110 588M1060 425L1100 405"/>
<!-- stub axle 2 -->
<path class="w" d="M975 110L1150 200L1115 250L945 165Q935 125 975 110Z" style="stroke-width:4.1"/>
<path class="w" d="M1225 100L1215 200Q1200 265 1130 285Q1095 270 1105 230Q1120 200 1160 195L1285 110Z"/>
<path class="w" d="M1285 120L1270 220Q1250 255 1200 245" style="fill:none"/>
<ellipse class="k" cx="1125" cy="245" rx="24" ry="40" transform="rotate(25 1125 245)"/>
<path class="l" d="M1145 170L1210 145L1210 185"/>
<!-- bolt top-left -->
<path class="w" d="M640 465L800 375L840 425L665 525Z" style="stroke-width:4.1"/>
<ellipse class="w" cx="652" cy="495" rx="22" ry="32" transform="rotate(25 652 495)" style="stroke-width:5.9"/>
<circle class="f" cx="822" cy="398" r="25"/>
<ellipse class="f" cx="1040" cy="432" rx="22" ry="35" transform="rotate(20 1040 432)"/><circle class="f" cx="1120" cy="395" r="27"/>
<!-- 18 link -->
<path class="w" d="M870 590L1160 755L1220 695L935 535Z" style="stroke-width:4.5"/>
<path class="k" d="M870 590L1160 755"/>
<path class="w" d="M845 515L965 450Q990 455 990 480L870 550Z" style="stroke-width:4.1"/>
<path class="w" d="M800 545Q780 550 780 580L790 630Q810 650 835 635L865 600L860 550L830 535Z" style="stroke-width:5.3"/>
<ellipse class="k" cx="825" cy="590" rx="22" ry="30"/><ellipse class="k" cx="818" cy="560" rx="16" ry="12"/>
<path class="w" d="M1150 735L1320 640L1345 690L1180 785Z" style="stroke-width:4.1"/>
<ellipse class="w" cx="1165" cy="760" rx="20" ry="30" transform="rotate(25 1165 760)" style="stroke-width:4.7"/>
<ellipse class="f" cx="1338" cy="655" rx="28" ry="26"/><ellipse class="w" cx="1370" cy="642" rx="10" ry="15" transform="rotate(25 1370 642)"/>
<path class="w" d="M1205 790L1300 740Q1335 745 1335 790L1330 870L1280 915Q1250 915 1245 885L1240 810Z" style="stroke-width:4.7"/>
<path class="l" d="M1240 810L1285 785L1320 770"/>
<ellipse class="k" cx="1295" cy="858" rx="20" ry="26"/><path class="l" d="M1285 868L1305 848"/>
<ellipse class="f" cx="710" cy="625" rx="24" ry="36" transform="rotate(20 710 625)"/>
<!-- bolt 23 -->
<path class="w" d="M445 760L625 662L640 690L460 792Z"/>
<ellipse class="w" cx="425" cy="792" rx="27" ry="32" transform="rotate(25 425 792)" style="stroke-width:5.9"/>
<ellipse class="f" cx="1240" cy="945" rx="24" ry="36" transform="rotate(20 1240 945)"/>
<!-- bolt 26 -->
<path class="w" d="M1015 1050L1175 965L1190 990L1030 1080Z"/>
<ellipse class="w" cx="995" cy="1085" rx="24" ry="33" transform="rotate(25 995 1085)" style="stroke-width:5.9"/>
<circle class="f" cx="1065" cy="1065" r="9"/>
<!-- spacer 19 -->
<path class="w" d="M1340 850L1480 775Q1505 790 1500 830L1370 905Q1335 895 1340 850Z" style="stroke-width:4.1"/>
<ellipse class="k" cx="1360" cy="878" rx="16" ry="26" transform="rotate(25 1360 878)"/>
<circle class="f" cx="1445" cy="852" r="9"/>
<ellipse class="f" cx="1597" cy="742" rx="22" ry="36" transform="rotate(20 1597 742)"/><circle class="f" cx="1718" cy="672" r="27"/>
</g>
<g transform="translate(1950 1500) scale(0.308071)" font-size="129.8"><!-- 44_k1.svg -->
<text x="1190" y="220" textLength="98" lengthAdjust="spacingAndGlyphs">16</text>
<text x="1100" y="390" textLength="100" lengthAdjust="spacingAndGlyphs">17</text>
<text x="2178" y="203" textLength="84" lengthAdjust="spacingAndGlyphs">11</text>
<text x="2165" y="568" textLength="104" lengthAdjust="spacingAndGlyphs">10</text>
<text x="1550" y="985" textLength="56" lengthAdjust="spacingAndGlyphs">9</text>
<text x="63" y="970" textLength="106" lengthAdjust="spacingAndGlyphs">10</text>
<text x="1225" y="1413" textLength="100" lengthAdjust="spacingAndGlyphs">17</text>
<text x="1065" y="1678" textLength="100" lengthAdjust="spacingAndGlyphs">16</text>

<path class="l" d="M1108 145L800 60M1022 278L785 155M2097 180L1770 240M2090 515L1785 490M1493 820L1285 540M243 958L430 1010M322 1298L500 1245M1145 1300L935 1195M1033 1503L850 1240M322 1545L490 1450M850 0L760 140M1748 300L1748 370M720 865L845 785M603 1100L625 1255M655 1345L685 1540M700 1590L790 1700M765 1290L840 1245M865 1225L900 1205M600 1385L665 1350"/>
<path class="h" d="M785 48L820 68"/>
<circle class="f" cx="755" cy="150" r="21"/><circle class="f" cx="792" cy="158" r="12"/><circle class="f" cx="1285" cy="540" r="10"/>
<circle class="f" cx="1745" cy="265" r="28"/><path d="M1718 270L1772 270" stroke="#fff" stroke-width="1.7"/>
<!-- ball joint right -->
<path class="w" d="M1720 440L1785 440L1785 500L1745 510L1690 525L1690 470Z" style="stroke-width:4.1"/>
<path class="l" d="M1745 445L1745 510"/>
<ellipse class="f" cx="1748" cy="395" rx="30" ry="26"/><path class="k" d="M1725 425L1772 425"/>
<ellipse class="f" cx="1655" cy="510" rx="33" ry="40"/>
<!-- rod 9 -->
<path class="w" d="M905 715L1480 370L1490 365L1555 330Q1575 340 1570 365L1510 405L1510 410L945 750L930 755L865 795Q840 790 845 765L910 725Z"/>
<path class="l" d="M1480 370Q1500 385 1510 410M905 715Q935 725 945 752M925 710Q950 725 958 745"/>
<ellipse class="l" cx="855" cy="780" rx="13" ry="19" transform="rotate(30 855 780)"/>
<ellipse class="f" cx="685" cy="878" rx="36" ry="38"/>
<!-- ball joint left -->
<path class="w" d="M480 925L525 900Q545 910 545 935L500 965Z"/>
<circle class="w" cx="447" cy="965" r="34" style="stroke-width:4.1"/>
<path class="w" d="M440 1000L440 1060L485 1060L485 1000Z"/>
<ellipse class="k" cx="462" cy="1025" rx="26" ry="12"/><ellipse cx="462" cy="1052" rx="26" ry="14" fill="none" stroke="#000" stroke-width="5.2"/>
<!-- bracket 13 -->
<path class="w" d="M500 1225Q510 1200 540 1200L575 1200L750 1275L765 1290L770 1355L710 1390L680 1385L600 1350L585 1320L520 1290Q500 1270 500 1250Z" style="stroke-width:4.5"/>
<path class="l" d="M520 1235L585 1262L700 1310L750 1280M700 1310L710 1388M720 1300L730 1378M750 1282L755 1362"/>
<ellipse class="k" cx="540" cy="1218" rx="17" ry="9"/><ellipse cx="682" cy="1272" rx="27" ry="17" fill="none" stroke="#000" stroke-width="5.2"/><ellipse class="k" cx="680" cy="1340" rx="10" ry="13"/>
<ellipse class="f" cx="685" cy="1562" rx="13" ry="25" transform="rotate(-20 685 1562)"/>
<ellipse class="f" cx="848" cy="1237" rx="14" ry="28" transform="rotate(-25 848 1237)"/><ellipse class="f" cx="920" cy="1195" rx="28" ry="30"/>
<!-- bolt 15 -->
<path class="w" d="M515 1420L595 1375L605 1392L530 1440Z"/>
<circle class="f" cx="500" cy="1445" r="21"/>
</g>
<g transform="translate(1150 1500) scale(0.308071)" font-size="129.8"><!-- 45_f1.svg -->
<text x="1805" y="1010" textLength="56" lengthAdjust="spacingAndGlyphs">7</text>
<text x="695" y="1258" textLength="56" lengthAdjust="spacingAndGlyphs">7</text>
<text x="414" y="1445" textLength="128" lengthAdjust="spacingAndGlyphs">25</text>
<text x="745" y="1468" textLength="58" lengthAdjust="spacingAndGlyphs">4</text>
<text x="842" y="1620" textLength="56" lengthAdjust="spacingAndGlyphs">8</text>
<text x="1740" y="1532" textLength="56" lengthAdjust="spacingAndGlyphs">3</text>
<path class="l" d="M1720 960L1460 765M1720 960L1520 1225M683 1095L590 820M875 1307L1040 1105M970 1493L1340 1190L1430 1035M1665 1487L1290 1475M1475 1150L1490 1215M260 1110L320 1300L0 1310M320 1300L335 1310M1965 790L1975 870M2210 965L2010 925"/>
<circle class="f" cx="1350" cy="1185" r="14"/><circle class="f" cx="1290" cy="1475" r="10"/><circle class="f" cx="248" cy="1080" r="27"/><circle class="f" cx="1980" cy="900" r="27"/><circle class="f" cx="580" cy="1582" r="27"/>
<!-- washer 4 -->
<ellipse class="w" cx="1058" cy="1080" rx="58" ry="33" style="stroke-width:4.7"/><ellipse class="k" cx="1060" cy="1080" rx="28" ry="15"/>
<!-- bottom right bushing -->
<path class="w" d="M1440 1225L1440 1275Q1485 1300 1528 1270L1528 1225Z" style="stroke-width:7.1"/>
<ellipse class="w" cx="1484" cy="1225" rx="44" ry="22" style="stroke-width:4.1"/>
<!-- spindle 3 -->
<path class="w" d="M1150 1480L1330 1368Q1390 1345 1425 1370Q1440 1395 1415 1418L1180 1590Q1120 1612 1075 1590Q1050 1565 1080 1545Z" style="stroke-width:4.1"/>
<path class="l" d="M1185 1605L1420 1432"/>
<ellipse class="k" cx="1368" cy="1385" rx="18" ry="10"/>
<ellipse class="l" cx="1115" cy="1575" rx="52" ry="26"/>
<path class="w" d="M1043 1190L1092 1572Q1120 1585 1150 1568L1108 1185Z"/>
<ellipse class="w" cx="1075" cy="1185" rx="32" ry="18"/>
<path class="l" d="M1058 1295Q1090 1310 1122 1292"/>
<!-- left spindle 2 arm -->
<path class="w" d="M160 905L385 805Q450 790 488 835Q498 872 465 890L175 1020Q100 1040 65 1000Q55 960 100 940Z" style="stroke-width:4.1"/>
<path class="l" d="M180 1036L472 905"/>
<ellipse class="k" cx="430" cy="840" rx="20" ry="12"/><ellipse class="k" cx="278" cy="922" rx="15" ry="10"/>
<ellipse class="l" cx="115" cy="985" rx="50" ry="26"/>
<path class="w" d="M135 760L90 985Q110 1000 150 985L195 745Z"/>
<ellipse class="w" cx="165" cy="735" rx="30" ry="15"/><path class="l" d="M140 775Q165 790 192 770"/>
<path class="w" d="M85 1010L70 1120Q90 1140 130 1125L140 1015Z"/>
<!-- bolt lower-left -->
</g>
<g transform="translate(1000 650) scale(0.308071)" font-size="129.8"><!-- 46_p1.svg -->
<text x="1760" y="482" textLength="138" lengthAdjust="spacingAndGlyphs">48</text>
<text x="618" y="618" textLength="130" lengthAdjust="spacingAndGlyphs">22</text>
<text x="404" y="758" textLength="126" lengthAdjust="spacingAndGlyphs">20</text>
<path class="l" d="M580 830L745 990"/>
</g>
<g transform="translate(1650 1600) scale(0.308071)" font-size="129.8"><!-- 46_q1.svg -->
<text x="655" y="257" textLength="106" lengthAdjust="spacingAndGlyphs">10</text>
<text x="662" y="708" textLength="92" lengthAdjust="spacingAndGlyphs">11</text>
<text x="1803" y="1520" textLength="108" lengthAdjust="spacingAndGlyphs">14</text>
<text x="1292" y="1975" textLength="126" lengthAdjust="spacingAndGlyphs">39</text>
<text x="1320" y="2212" textLength="58" lengthAdjust="spacingAndGlyphs">5</text>
</g>
<g transform="translate(1000 270) scale(0.308071)" font-size="129.8"><!-- 50_a1.svg -->
<text x="543" y="592" textLength="122" lengthAdjust="spacingAndGlyphs">37</text>
<text x="388" y="838" textLength="134" lengthAdjust="spacingAndGlyphs">40</text>
<text x="272" y="1028" textLength="100" lengthAdjust="spacingAndGlyphs">16</text>
<text x="182" y="1182" textLength="106" lengthAdjust="spacingAndGlyphs">17</text>
<text x="1128" y="998" textLength="130" lengthAdjust="spacingAndGlyphs">42</text>
<text x="1710" y="703" textLength="120" lengthAdjust="spacingAndGlyphs">41</text>
<text x="1763" y="1530" textLength="135" lengthAdjust="spacingAndGlyphs">43</text>
<path class="l" d="M735 635L1040 850M590 870L900 1040M443 1045L800 1222M355 1185L720 1330M1177 1068L1145 1395M1792 772L1858 1020M1685 1443L1310 1345M1685 1610L1330 1455"/>
<!-- bolt 37 -->
<path class="f" d="M1018 838Q1040 822 1065 840Q1082 855 1080 868L1030 862Z"/>
<path class="l" d="M1030 865L975 940L995 955L1052 875M1000 900L985 950"/>
<path class="l" d=""/>
<circle class="f" cx="728" cy="1338" r="20"/>
<path class="k" d="M785 1218L822 1240"/>
<circle class="f" cx="800" cy="1222" r="10"/>
<!-- bracket 40 -->
<path class="l" d="M888 1052L920 1048L985 1120L1000 1160L985 1185L958 1188L862 1125L848 1108L878 1070ZM878 1070L910 1095M848 1108L880 1130L910 1095"/>
<circle class="f" cx="903" cy="1042" r="11"/>
<ellipse class="f" cx="932" cy="1115" rx="24" ry="28"/>
<ellipse class="f" cx="982" cy="1160" rx="12" ry="14"/>
<path class="l" d=""/>
<!-- rod 41 -->
<path class="l" d="M1345 1298L2607 598L2622 620L1357 1316ZM1320 1328L1348 1308"/>
<circle class="f" cx="1858" cy="1018" r="9"/>
<circle class="f" cx="1296" cy="1338" r="21"/>
<circle class="f" cx="1330" cy="1350" r="12"/>
<path class="l" d=""/>
<!-- part 42 -->
<path class="w" d="M1100 1415L1215 1360Q1240 1365 1245 1395L1130 1462Z"/>
<path class="l" d="M1215 1360Q1205 1380 1218 1408M1150 1392L1165 1440M1175 1380L1190 1428M1245 1385L1290 1355"/>
<ellipse class="f" cx="1118" cy="1440" rx="30" ry="36"/>
<path class="l" d="M1150 1450L1215 1490"/>
<!-- clip 48 -->
<path class="k" d="M1205 1490L1245 1525L1330 1480L1345 1440L1310 1420L1300 1450L1250 1480Z"/>
<circle class="f" cx="1312" cy="1420" r="10"/>
<circle class="f" cx="1245" cy="1518" r="12"/>
<path class="t" d="M1990 970L2272 1135M985 950L905 1060M860 1140L735 1330M1003 1160L1245 1298"/>
</g>
<g transform="translate(1700 270) scale(0.308071)" font-size="129.8"><!-- 50_a2.svg -->
<text x="48" y="160" textLength="108" lengthAdjust="spacingAndGlyphs">17</text>
<text x="258" y="160" textLength="140" lengthAdjust="spacingAndGlyphs">44</text>
<text x="502" y="160" textLength="108" lengthAdjust="spacingAndGlyphs">17</text>
<text x="144" y="1450" textLength="106" lengthAdjust="spacingAndGlyphs">17</text>
<path class="l" d="M175 228L390 560M380 228L500 490M585 228L640 425M212 1520L232 1623"/>
<circle class="f" cx="398" cy="575" r="22"/><circle class="f" cx="645" cy="440" r="22"/>
<path d="M478 535L578 478" stroke="#000" stroke-width="15" stroke-linecap="round" fill="none" vector-effect="non-scaling-stroke"/>
<path class="l" d="M420 562L462 540M598 470L625 452M350 608L380 590"/>
<path class="t" d="M0 1130L462 1400"/>
</g>
</svg>
</body>
</html>
